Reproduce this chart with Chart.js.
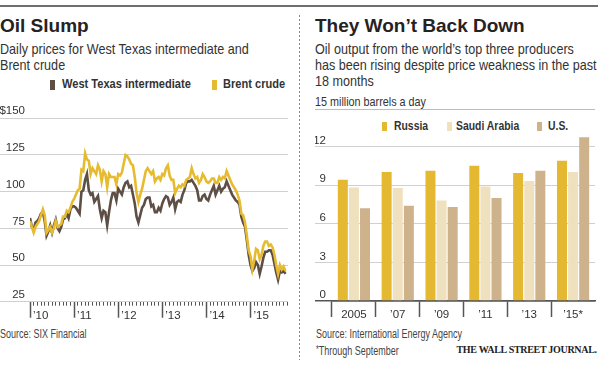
<!DOCTYPE html>
<html><head><meta charset="utf-8">
<script src="https://cdn.jsdelivr.net/npm/chart.js@4/dist/chart.umd.min.js"></script>
<style>
html,body{margin:0;padding:0;background:#fff;}
body{width:600px;height:367px;position:relative;overflow:hidden;font-family:"Liberation Sans",Arial,sans-serif;color:#333;}
.t{position:absolute;white-space:nowrap;}
.n{transform-origin:0 0;transform:scaleX(0.84);}
.title{font-weight:bold;font-size:19px;line-height:20px;color:#262222;}
.sub{font-size:15px;line-height:16px;color:#333;}
.leg{font-weight:bold;font-size:13.5px;line-height:14px;color:#333;}
.sw{position:absolute;}
.src{font-size:12.5px;line-height:13px;color:#444;transform:scaleX(0.72);}
canvas{position:absolute;}
</style>
</head>
<body>
<div style="position:absolute;left:0;top:5px;width:598px;height:2px;background:#6e6e6e"></div>
<div style="position:absolute;left:299px;top:15px;width:1px;height:345px;background:repeating-linear-gradient(to bottom,#8a8a8a 0,#8a8a8a 2px,transparent 2px,transparent 4px)"></div>

<div class="t title" style="left:0;top:16.4px">Oil Slump</div>
<div class="t sub n" style="left:0;top:40.8px">Daily prices for West Texas intermediate and<br>Brent crude</div>
<div class="sw" style="left:49.5px;top:80px;width:5px;height:10px;background:#5d4e46"></div>
<div class="t leg n" style="left:61.5px;top:77.3px;transform:scaleX(0.82)">West Texas intermediate</div>
<div class="sw" style="left:211.5px;top:80px;width:5px;height:10px;background:#e7bb2f"></div>
<div class="t leg n" style="left:222.7px;top:77.3px;transform:scaleX(0.82)">Brent crude</div>

<div class="t title" style="left:315px;top:16.4px">They Won’t Back Down</div>
<div class="t sub n" style="left:315px;top:40.65px;line-height:16.3px">Oil output from the world’s top three producers<br>has been rising despite price weakness in the past<br>18 months</div>
<div class="t n" style="left:315px;top:94.5px;font-size:13px;line-height:14px;color:#333;transform:scaleX(0.83)">15 million barrels a day</div>
<div style="position:absolute;left:315px;top:109px;width:280px;height:1px;background:#bdbdbd"></div>
<div class="sw" style="left:382.3px;top:121.5px;width:5px;height:9.5px;background:#e4b830"></div>
<div class="t leg n" style="left:394px;top:119.2px;font-size:13px;transform:scaleX(0.8)">Russia</div>
<div class="sw" style="left:447px;top:121.5px;width:5px;height:9.5px;background:#efe1bd"></div>
<div class="t leg n" style="left:456px;top:119.2px;font-size:13px;transform:scaleX(0.8)">Saudi Arabia</div>
<div class="sw" style="left:537.3px;top:121.5px;width:5px;height:9.5px;background:#cdb28c"></div>
<div class="t leg n" style="left:548.3px;top:119.2px;font-size:13px;transform:scaleX(0.8)">U.S.</div>

<div class="t src n" style="left:0;top:327.5px">Source: SIX Financial</div>
<div class="t src n" style="left:316px;top:327.5px">Source: International Energy Agency</div>
<div class="t src n" style="left:316px;top:342.5px"><span style="font-size:10px;vertical-align:2px">*</span>Through September</div>
<div class="t" style="left:456.5px;top:343.8px;font-family:'Liberation Serif','Times New Roman',serif;font-weight:bold;font-size:10px;line-height:11px;letter-spacing:-0.3px;color:#222">THE WALL STREET JOURNAL.</div>

<canvas id="oil" width="295" height="230" style="left:0;top:100px;width:295px;height:230px"></canvas>
<canvas id="prod" width="300" height="225" style="left:300px;top:110px;width:300px;height:225px"></canvas>

<script>
// ---- Oil Slump: semi-monthly readings (1st and 16th of each month), Jan 2010 - Oct 2015
const startYear = 2010;
const samplesPerYear = 24;
const wti = [
  82,76, 74,79, 80,82, 85,86, 80,70, 73,77, 72,77, 81,75, 73,76, 81,82, 85,82, 88,90,
  90,89, 87,85, 100,101, 108,112, 101,98, 99,93, 95,97, 88,82, 87,86, 77,86, 94,99, 99,94,
  102,100, 98,103, 106,107, 103,104, 98,92, 83,79, 84,89, 91,95, 96,96, 90,91, 86,86, 89,87,
  92,95, 97,96, 91,93, 96,88, 93,94, 93,98, 101,106, 107,107, 108,106, 104,101, 94,94, 97,98,
  95,94, 98,101, 104,98, 101,104, 100,102, 103,107, 104,101, 98,96, 94,93, 91,83, 79,76, 67,57,
  50,46, 48,52, 50,44, 49,55, 59,59, 60,60, 57,51, 45,40, 46,45, 46,44
];
const brent = [
  80,76, 72,76, 78,80, 84,88, 84,72, 74,76, 72,75, 80,76, 77,78, 83,83, 87,86, 89,93,
  95,98, 101,102, 115,114, 126,122, 121,112, 116,114, 112,118, 115,107, 114,112, 103,112, 110,110, 110,105,
  112,111, 113,119, 125,124, 122,119, 118,110, 99,93, 98,102, 108,114, 116,114, 112,114, 107,109, 110,108,
  112,111, 116,118, 111,108, 108,99, 102,104, 103,105, 104,108, 109,110, 116,112, 109,110, 106,108, 112,110,
  107,106, 107,109, 109,106, 106,110, 108,110, 109,114, 111,108, 105,103, 101,98, 94,85, 84,79, 70,60,
  56,47, 53,61, 60,54, 57,63, 66,66, 63,64, 62,57, 50,44, 50,47, 49,46
];
const yearTicks = [2010, 2011, 2012, 2013, 2014, 2015];
const yearLabels = ["’10", "’11", "’12", "’13", "’14", "’15"];
const priceTicks = [25, 50, 75, 100, 125, 150];
const xMin = 2010, xMax = 2015.85;

// ---- They Won't Back Down
const prodCategories = ["2005", "’07", "’09", "’11", "’13", "’15*"];
const russia = [9.43, 10.03, 10.13, 10.52, 9.95, 10.91];
const saudi  = [8.83, 8.78, 7.82, 8.91, 9.33, 10.03];
const us     = [7.22, 7.40, 7.30, 8.00, 10.13, 12.73];
const prodTicks = [0, 3, 6, 9, 12];

const WTI_C = '#5d4e46', BRENT_C = '#e7bb2f';
const GRID = '#d0d0d0', DARK = '#555';
const tickFont = {family: 'Liberation Sans', size: 11.5};

const toPts = arr => arr.map((v, i) => ({x: startYear + i / samplesPerYear, y: v}));
const monthTicks = [];
for (let m = 0; startYear + m / 12 <= xMax; m++) monthTicks.push(startYear + m / 12);

new Chart(document.getElementById('oil'), {
  type: 'line',
  data: {datasets: [
    {label: 'Brent crude', data: toPts(brent), borderColor: BRENT_C, borderWidth: 2.6, pointRadius: 0, tension: 0},
    {label: 'West Texas intermediate', data: toPts(wti), borderColor: WTI_C, borderWidth: 2.6, pointRadius: 0, tension: 0}
  ]},
  options: {
    responsive: false, animation: false,
    layout: {padding: {top: 18.3, right: 7, bottom: 0, left: 0}},
    plugins: {legend: {display: false}, tooltip: {enabled: false}},
    scales: {
      xm: {type: 'linear', position: 'bottom', weight: 0, min: xMin, max: xMax,
        afterBuildTicks: s => { s.ticks = monthTicks.map(v => ({value: v})); },
        afterFit: s => { s.height = 0; },
        grid: {drawOnChartArea: false, drawTicks: true, tickLength: 4, tickColor: DARK, tickWidth: 1},
        border: {display: false},
        ticks: {display: false, autoSkip: false}},
      x: {type: 'linear', position: 'bottom', weight: 1, min: xMin, max: xMax,
        afterBuildTicks: s => { s.ticks = yearTicks.map(v => ({value: v})); },
        afterFit: s => { s.height = 28.3; },
        grid: {drawOnChartArea: false, drawTicks: true, tickLength: 16, tickColor: DARK, tickWidth: 1.5},
        border: {display: false},
        ticks: {align: 'start', labelOffset: 3, padding: -9, autoSkip: false, maxRotation: 0, color: '#333', font: tickFont,
          callback: (v, i) => yearLabels[i]}},
      y: {min: 25, max: 150,
        afterBuildTicks: s => { s.ticks = priceTicks.map(v => ({value: v})); },
        afterFit: s => { s.width = 30; },
        grid: {color: GRID, tickColor: GRID, tickLength: 30, lineWidth: 1},
        border: {display: false},
        ticks: {padding: -25, labelOffset: -7, color: '#333', font: tickFont,
          callback: (v, i) => (i === priceTicks.length - 1 ? '$' : '') + v}}
    }
  }
});

new Chart(document.getElementById('prod'), {
  type: 'bar',
  data: {labels: prodCategories, datasets: [
    {label: 'Russia', data: russia, backgroundColor: '#e4b830'},
    {label: 'Saudi Arabia', data: saudi, backgroundColor: '#efe1bd'},
    {label: 'U.S.', data: us, backgroundColor: '#cdb28c'}
  ]},
  options: {
    responsive: false, animation: false,
    layout: {padding: {top: 23.8, right: 5, bottom: 0, left: 15}},
    datasets: {bar: {categoryPercentage: 0.76, barPercentage: 0.9}},
    plugins: {legend: {display: false}, tooltip: {enabled: false}},
    scales: {
      x: {afterFit: s => { s.height = 34; },
        grid: {offset: true, drawOnChartArea: false, tickLength: 16, tickWidth: 1.5,
          tickColor: c => c.tick ? DARK : 'rgba(0,0,0,0)'},
        border: {display: true, color: DARK, width: 1.5},
        ticks: {padding: -9, color: '#333', font: tickFont, maxRotation: 0, autoSkip: false}},
      y: {min: 0, max: 13,
        afterBuildTicks: s => { s.ticks = prodTicks.map(v => ({value: v})); },
        afterFit: s => { s.width = 17; },
        grid: {tickLength: 17,
          color: c => (c.tick && c.tick.value === 0) ? DARK : GRID,
          tickColor: c => (c.tick && c.tick.value === 0) ? DARK : GRID,
          lineWidth: c => (c.tick && c.tick.value === 0) ? 1.5 : 1},
        border: {display: false},
        ticks: {padding: -11, labelOffset: -6, color: '#333', font: tickFont}}
    }
  }
});
</script>
</body></html>
